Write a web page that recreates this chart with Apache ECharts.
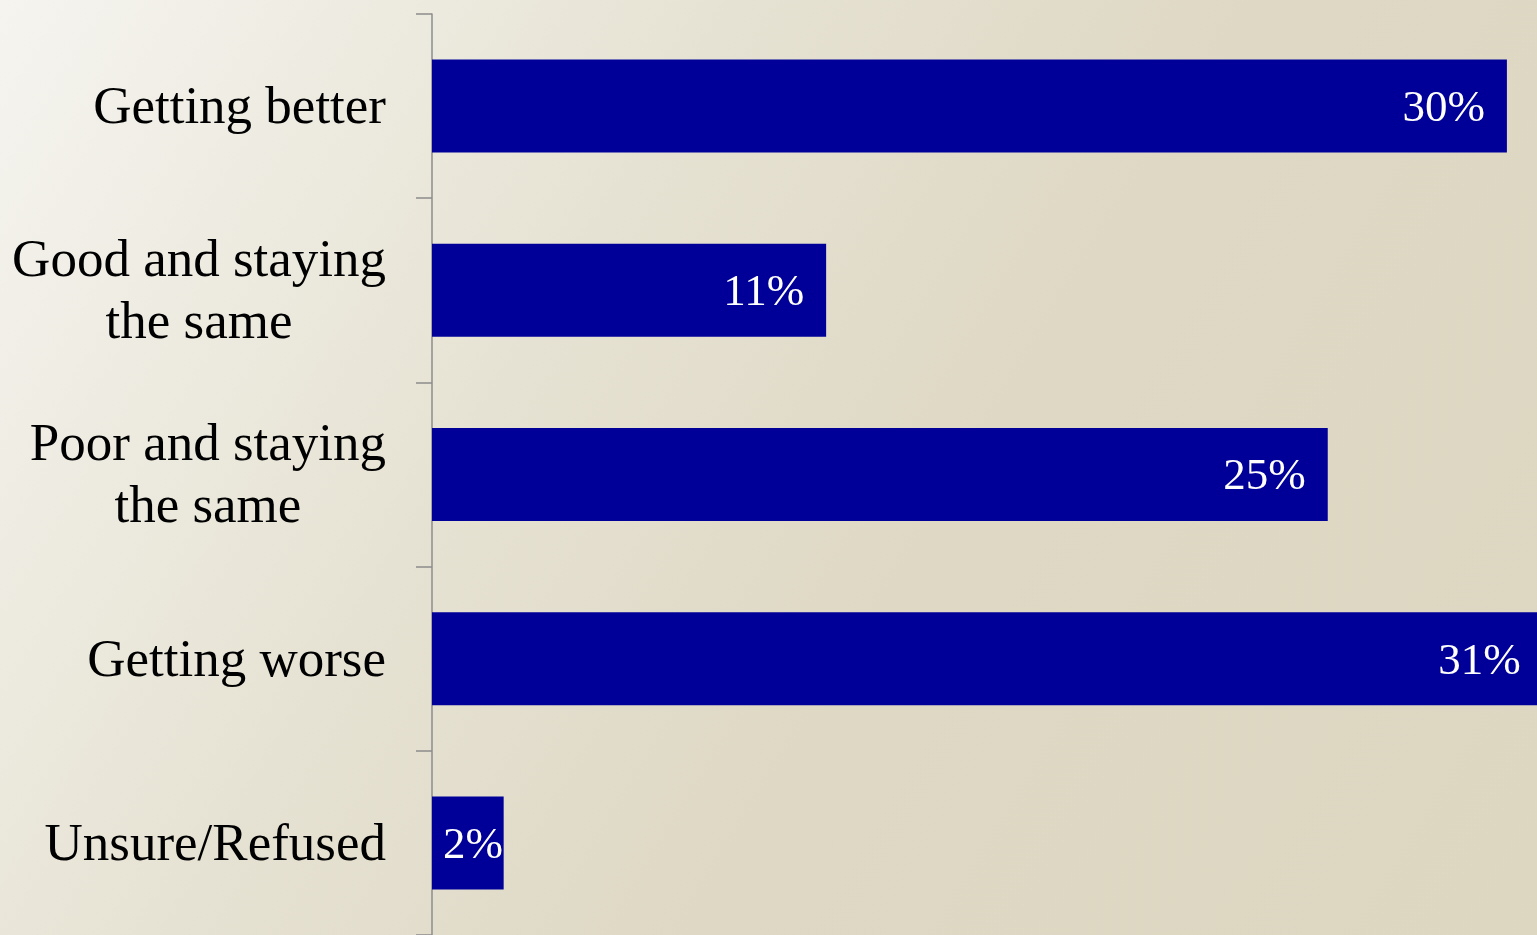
<!DOCTYPE html>
<html>
<head>
<meta charset="utf-8">
<style>
html,body{margin:0;padding:0;width:1537px;height:935px;overflow:hidden;}
#chart{width:1537px;height:935px;}
</style>
<script src="https://cdn.jsdelivr.net/npm/echarts@6/dist/echarts.min.js"></script>
</head>
<body>
<div id="chart"></div>
<script>
const categories = ['Getting better', 'Good and staying\nthe same', 'Poor and staying\nthe same', 'Getting worse', 'Unsure/Refused'];
const values = [30, 11, 25, 31, 2];

const FONT = '"Liberation Serif", "Times New Roman", serif';
const LABEL_SIZE = 53;
const VALUE_SIZE = 45;

const ctx = document.createElement('canvas').getContext('2d');
ctx.font = LABEL_SIZE + 'px ' + FONT;

const yData = categories.map(function (c) {
  const lines = c.split('\n');
  if (lines.length < 2) return c;
  const w = Math.max.apply(null, lines.map(function (l) { return ctx.measureText(l).width; }));
  return { value: c, textStyle: { align: 'center', padding: [0, w, 0, 0] } };
});

const barData = values.map(function (v) {
  if (v < 5) {
    return { value: v, label: { position: 'insideLeft', distance: 11 } };
  }
  return v;
});

const chart = echarts.init(document.getElementById('chart'), null, { renderer: 'canvas' });
chart.setOption({
  animation: false,
  backgroundColor: {
    type: 'linear', x: 0, y: 0, x2: 1, y2: 1,
    colorStops: [
      { offset: 0, color: '#F5F4EF' },
      { offset: 0.35, color: '#E6E2D3' },
      { offset: 0.6, color: '#DED8C4' },
      { offset: 1, color: '#DDD7C2' }
    ]
  },
  grid: { left: 432, top: 14, right: 0, bottom: 0, containLabel: false },
  xAxis: { type: 'value', min: 0, max: 30.84, show: false },
  yAxis: {
    type: 'category',
    inverse: true,
    data: yData,
    offset: 1,
    axisLine: { show: true, lineStyle: { color: '#8C8C8C', width: 1.5 } },
    axisTick: { show: true, length: 16, inside: false, lineStyle: { color: '#8C8C8C', width: 1.5 } },
    axisLabel: {
      margin: 45,
      fontFamily: FONT,
      fontSize: LABEL_SIZE,
      color: '#000000',
      lineHeight: 62,
      formatter: function (v) {
        return v.split('\n').map(function (l) { return '{a|' + l + '}'; }).join('\n');
      },
      rich: {
        a: {
          fontFamily: FONT,
          fontSize: LABEL_SIZE,
          color: '#000000',
          lineHeight: 62,
          padding: [6, 0, 0, 0]
        }
      }
    },
    splitLine: { show: false }
  },
  series: [{
    type: 'bar',
    data: barData,
    barWidth: 93,
    clip: false,
    itemStyle: { color: '#000099' },
    label: {
      show: true,
      position: 'insideRight',
      distance: 22,
      offset: [0, 3],
      formatter: '{c}%',
      color: '#FFFFFF',
      fontFamily: FONT,
      fontSize: VALUE_SIZE
    }
  }]
});
</script>
</body>
</html>
